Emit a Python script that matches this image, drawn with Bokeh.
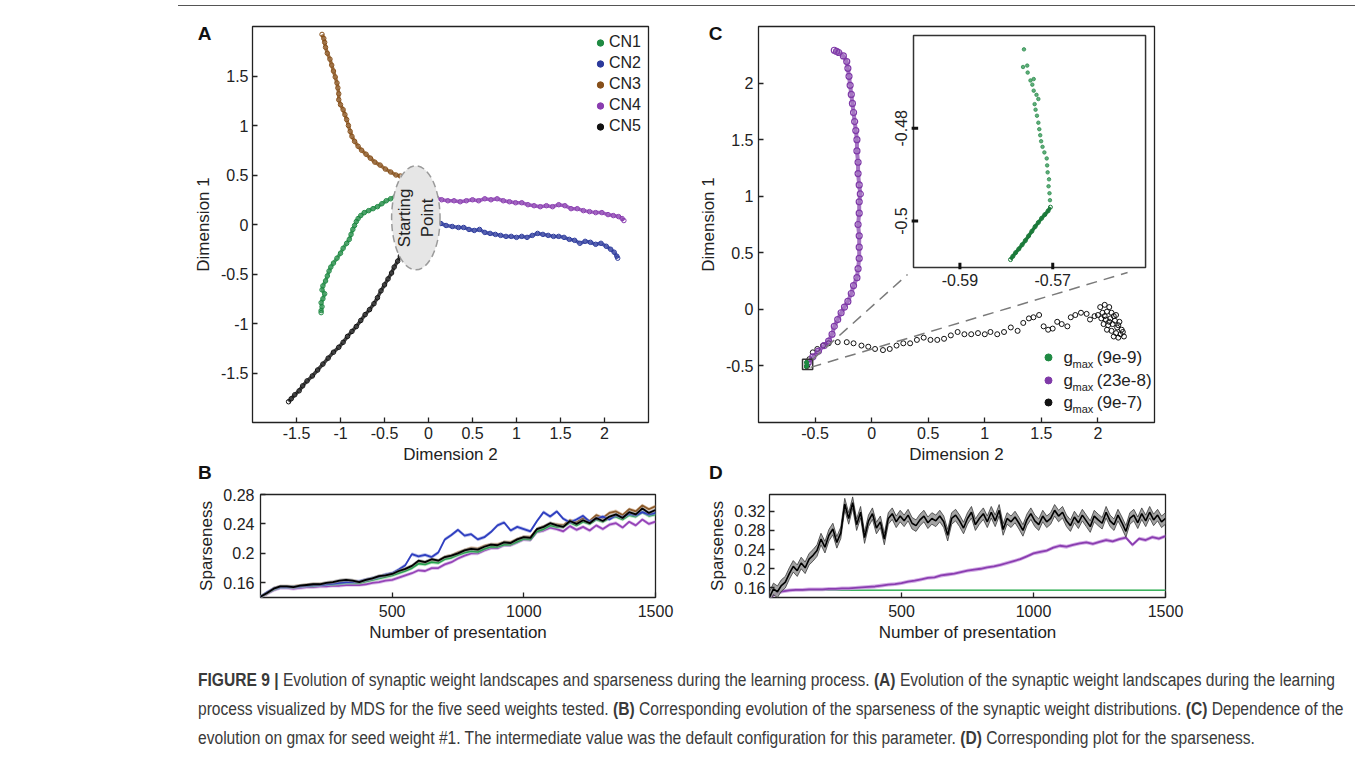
import math
from bokeh.plotting import figure
from bokeh.models import (Range1d, Label, Div, Spacer, FixedTicker, Legend, LegendItem,
                          NumeralTickFormatter, LinearAxis, CustomJSTickFormatter)
from bokeh.layouts import column, row
from bokeh.embed import file_html
from bokeh.resources import INLINE
from bokeh.core.properties import value

FONT = "Liberation Sans"
INK = "#222222"
NAN = float("nan")

# ---------------- Panel A: MDS trajectories (Dimension 2, Dimension 1) ----------------
CN1 = [(-0.29, 0.32), (-0.33, 0.30), (-0.38, 0.28), (-0.43, 0.26), (-0.48, 0.24), (-0.53, 0.21),
       (-0.58, 0.18), (-0.63, 0.16), (-0.68, 0.14), (-0.73, 0.12), (-0.77, 0.09), (-0.80, 0.06),
       (-0.82, 0.03), (-0.84, -0.01), (-0.86, -0.05), (-0.88, -0.10), (-0.90, -0.15), (-0.93, -0.19),
       (-0.97, -0.24), (-1.00, -0.29), (-1.04, -0.34), (-1.08, -0.39), (-1.11, -0.43), (-1.13, -0.47),
       (-1.15, -0.52), (-1.17, -0.57), (-1.20, -0.62), (-1.21, -0.66), (-1.18, -0.70), (-1.20, -0.75),
       (-1.22, -0.79), (-1.21, -0.83), (-1.22, -0.87), (-1.22, -0.89)]
CN2 = [(0.06, 0.08), (0.09, 0.04), (0.14, 0.01), (0.20, -0.01), (0.27, -0.02), (0.34, -0.03),
       (0.40, -0.03), (0.46, -0.05), (0.52, -0.06), (0.58, -0.05), (0.64, -0.08), (0.70, -0.09),
       (0.76, -0.10), (0.82, -0.11), (0.88, -0.12), (0.94, -0.12), (1.00, -0.13), (1.06, -0.12),
       (1.12, -0.13), (1.18, -0.11), (1.24, -0.09), (1.30, -0.10), (1.36, -0.11), (1.42, -0.12),
       (1.48, -0.12), (1.54, -0.13), (1.60, -0.15), (1.66, -0.16), (1.72, -0.19), (1.78, -0.17),
       (1.84, -0.18), (1.90, -0.20), (1.96, -0.19), (2.02, -0.22), (2.07, -0.25), (2.11, -0.28),
       (2.14, -0.32), (2.15, -0.34)]
CN3 = [(-0.32, 0.49), (-0.37, 0.50), (-0.43, 0.53), (-0.49, 0.56), (-0.55, 0.60), (-0.61, 0.63),
       (-0.66, 0.67), (-0.71, 0.71), (-0.76, 0.75), (-0.80, 0.79), (-0.84, 0.84), (-0.87, 0.89),
       (-0.89, 0.94), (-0.91, 1.00), (-0.93, 1.06), (-0.95, 1.11), (-0.97, 1.16), (-1.00, 1.21),
       (-1.02, 1.26), (-1.02, 1.32), (-1.03, 1.38), (-1.04, 1.43), (-1.06, 1.49), (-1.08, 1.55),
       (-1.10, 1.61), (-1.12, 1.67), (-1.15, 1.73), (-1.17, 1.79), (-1.18, 1.84), (-1.19, 1.88),
       (-1.21, 1.92)]
CN4 = [(0.05, 0.35), (0.06, 0.30), (0.09, 0.27), (0.15, 0.25), (0.22, 0.24), (0.29, 0.24),
       (0.36, 0.23), (0.43, 0.24), (0.50, 0.25), (0.57, 0.24), (0.64, 0.26), (0.71, 0.25),
       (0.78, 0.26), (0.85, 0.24), (0.92, 0.23), (0.99, 0.22), (1.06, 0.22), (1.13, 0.20),
       (1.20, 0.19), (1.27, 0.18), (1.34, 0.19), (1.41, 0.18), (1.48, 0.20), (1.55, 0.19),
       (1.62, 0.16), (1.69, 0.16), (1.76, 0.14), (1.83, 0.13), (1.90, 0.12), (1.97, 0.12),
       (2.04, 0.10), (2.10, 0.09), (2.16, 0.08), (2.20, 0.06), (2.22, 0.04)]
CN5 = [(-0.32, -0.32), (-0.35, -0.37), (-0.39, -0.43), (-0.42, -0.49), (-0.46, -0.55), (-0.50, -0.61),
       (-0.54, -0.67), (-0.58, -0.74), (-0.62, -0.80), (-0.67, -0.86), (-0.72, -0.91), (-0.77, -0.97),
       (-0.82, -1.03), (-0.87, -1.08), (-0.92, -1.13), (-0.97, -1.19), (-1.02, -1.24), (-1.08, -1.29),
       (-1.14, -1.35), (-1.20, -1.41), (-1.26, -1.47), (-1.32, -1.53), (-1.38, -1.58), (-1.43, -1.63),
       (-1.47, -1.68), (-1.52, -1.72), (-1.56, -1.76), (-1.59, -1.79)]
CN_NAMES = ["CN1", "CN2", "CN3", "CN4", "CN5"]
CN_COLORS = ["#1f8a43", "#2c3a9c", "#87501a", "#8a3db0", "#111111"]
START_CENTER = (-0.144, 0.067)
START_SIZE = (0.55, 1.05)

# ---------------- Panel C: gmax dependence ----------------
GMAX_LABELS = ["(9e-9)", "(23e-8)", "(9e-7)"]
GMAX_COLORS = ["#1f8a43", "#7f3aa8", "#111111"]
C_PURPLE = [(-0.56, -0.47), (-0.52, -0.42), (-0.47, -0.37), (-0.42, -0.32), (-0.38, -0.28),
            (-0.35, -0.22), (-0.33, -0.15), (-0.30, -0.09), (-0.27, -0.03), (-0.24, 0.02),
            (-0.21, 0.07), (-0.18, 0.14), (-0.16, 0.21), (-0.13, 0.28), (-0.12, 0.36),
            (-0.11, 0.45), (-0.11, 0.55), (-0.11, 0.65), (-0.12, 0.75), (-0.11, 0.85),
            (-0.11, 0.95), (-0.10, 1.02), (-0.11, 1.10), (-0.12, 1.20), (-0.12, 1.30),
            (-0.13, 1.40), (-0.13, 1.50), (-0.14, 1.58), (-0.15, 1.66), (-0.16, 1.74),
            (-0.17, 1.82), (-0.18, 1.90), (-0.19, 1.98), (-0.20, 2.06), (-0.21, 2.13),
            (-0.22, 2.19), (-0.25, 2.24), (-0.29, 2.27), (-0.33, 2.29), (-0.31, 2.28)]
C_BLACK = [(-0.57, -0.50), (-0.55, -0.44), (-0.52, -0.38), (-0.48, -0.35), (-0.43, -0.32),
           (-0.38, -0.30), (-0.30, -0.29), (-0.22, -0.29), (-0.16, -0.30), (-0.09, -0.32),
           (-0.03, -0.33), (0.03, -0.35), (0.10, -0.36), (0.16, -0.35), (0.22, -0.32),
           (0.28, -0.30), (0.34, -0.30), (0.40, -0.27), (0.46, -0.25), (0.52, -0.27),
           (0.58, -0.27), (0.64, -0.26), (0.70, -0.23), (0.76, -0.20), (0.82, -0.22),
           (0.88, -0.22), (0.94, -0.21), (1.00, -0.22), (1.05, -0.20), (1.11, -0.22),
           (1.17, -0.20), (1.23, -0.16), (1.29, -0.19), (1.34, -0.12), (1.39, -0.08),
           (1.43, -0.07), (1.48, -0.05), (1.52, -0.15), (1.56, -0.18), (1.60, -0.17),
           (1.64, -0.11), (1.68, -0.13), (1.73, -0.15), (1.76, -0.07), (1.80, -0.05),
           (1.85, -0.03), (1.90, -0.04), (1.93, -0.09), (1.97, -0.06),
           (2.02, 0.02), (2.06, 0.04), (2.10, 0.02), (2.04, -0.03), (2.08, -0.02), (2.12, -0.03),
           (2.16, -0.05), (2.03, -0.08), (2.07, -0.09), (2.11, -0.08), (2.15, -0.10), (2.19, -0.11),
           (2.05, -0.13), (2.09, -0.14), (2.13, -0.13), (2.17, -0.16), (2.21, -0.18), (2.08, -0.18),
           (2.12, -0.19), (2.16, -0.21), (2.20, -0.22), (2.23, -0.24), (2.14, -0.24), (2.18, -0.25),
           (2.10, -0.11), (2.14, -0.06), (2.18, -0.14), (2.06, -0.06), (2.22, -0.20), (2.00, -0.05)]
# green (9e-9) trajectory, shown enlarged in the inset
C_GREEN_DENSE = [(-0.5791, -0.5083), (-0.5786, -0.5076), (-0.5780, -0.5068), (-0.5773, -0.5060),
                 (-0.5766, -0.5051), (-0.5759, -0.5042), (-0.5752, -0.5032), (-0.5745, -0.5022),
                 (-0.5738, -0.5012), (-0.5731, -0.5003), (-0.5724, -0.4994), (-0.5717, -0.4986),
                 (-0.5710, -0.4978), (-0.5705, -0.4970)]
C_GREEN_SPARSE = [(-0.5706, -0.4955), (-0.5707, -0.4940), (-0.5709, -0.4925), (-0.5708, -0.4910),
                  (-0.5711, -0.4895), (-0.5712, -0.4880), (-0.5713, -0.4865), (-0.5718, -0.4852),
                  (-0.5722, -0.4840), (-0.5725, -0.4828), (-0.5727, -0.4815), (-0.5729, -0.4802),
                  (-0.5731, -0.4788), (-0.5734, -0.4773), (-0.5737, -0.4760), (-0.5739, -0.4748),
                  (-0.5731, -0.4737), (-0.5735, -0.4728), (-0.5741, -0.4719), (-0.5744, -0.4706),
                  (-0.5748, -0.4697), (-0.5741, -0.4694), (-0.5754, -0.4680), (-0.5755, -0.4665),
                  (-0.5764, -0.4668), (-0.5762, -0.4630)]
INSET_XRANGE = (-0.60, -0.55)
INSET_YRANGE = (-0.51, -0.46)
INSET_XTICKS = [-0.59, -0.57]
INSET_YTICKS = [-0.50, -0.48]

# ---------------- Panel B: sparseness, five seed weights ----------------
X_B = list(range(0, 1501, 25))
B_CN1 = [0.141, 0.146, 0.151, 0.154, 0.154, 0.154, 0.155, 0.156, 0.156, 0.157,
         0.158, 0.158, 0.159, 0.160, 0.160, 0.160, 0.162, 0.164, 0.166, 0.168,
         0.170, 0.173, 0.176, 0.180, 0.186, 0.185, 0.188, 0.187, 0.192, 0.194,
         0.198, 0.201, 0.203, 0.202, 0.206, 0.209, 0.209, 0.212, 0.212, 0.216,
         0.220, 0.219, 0.230, 0.233, 0.238, 0.236, 0.236, 0.242, 0.238, 0.243,
         0.240, 0.246, 0.243, 0.248, 0.250, 0.246, 0.252, 0.250, 0.256, 0.251,
         0.253]
B_CN2 = [0.141, 0.147, 0.152, 0.154, 0.154, 0.154, 0.155, 0.156, 0.157, 0.157,
         0.158, 0.159, 0.160, 0.161, 0.161, 0.162, 0.164, 0.166, 0.168, 0.171,
         0.173, 0.178, 0.184, 0.199, 0.196, 0.198, 0.195, 0.201, 0.219, 0.225,
         0.232, 0.224, 0.226, 0.219, 0.222, 0.229, 0.238, 0.242, 0.231, 0.236,
         0.233, 0.230, 0.244, 0.256, 0.250, 0.257, 0.247, 0.242, 0.246, 0.251,
         0.243, 0.247, 0.250, 0.246, 0.252, 0.249, 0.254, 0.252, 0.256, 0.253,
         0.255]
B_CN3 = [0.141, 0.146, 0.152, 0.155, 0.155, 0.155, 0.156, 0.157, 0.158, 0.158,
         0.159, 0.160, 0.161, 0.162, 0.162, 0.161, 0.163, 0.165, 0.168, 0.170,
         0.172, 0.175, 0.178, 0.182, 0.188, 0.187, 0.191, 0.190, 0.195, 0.197,
         0.201, 0.204, 0.207, 0.206, 0.210, 0.212, 0.212, 0.215, 0.215, 0.219,
         0.222, 0.222, 0.233, 0.236, 0.240, 0.239, 0.238, 0.245, 0.242, 0.248,
         0.244, 0.252, 0.248, 0.255, 0.257, 0.252, 0.260, 0.257, 0.265, 0.260,
         0.264]
B_CN4 = [0.141, 0.145, 0.150, 0.153, 0.153, 0.152, 0.153, 0.154, 0.154, 0.155,
         0.155, 0.156, 0.156, 0.157, 0.157, 0.157, 0.158, 0.160, 0.161, 0.163,
         0.164, 0.167, 0.170, 0.173, 0.177, 0.176, 0.180, 0.180, 0.185, 0.188,
         0.193, 0.197, 0.200, 0.200, 0.204, 0.207, 0.207, 0.211, 0.211, 0.215,
         0.219, 0.218, 0.229, 0.231, 0.235, 0.233, 0.230, 0.237, 0.232, 0.236,
         0.231, 0.238, 0.233, 0.239, 0.241, 0.235, 0.243, 0.238, 0.246, 0.240,
         0.243]
B_CN5 = [0.141, 0.146, 0.152, 0.155, 0.155, 0.154, 0.156, 0.157, 0.158, 0.158,
         0.160, 0.161, 0.163, 0.164, 0.163, 0.161, 0.164, 0.166, 0.169, 0.170,
         0.172, 0.176, 0.179, 0.183, 0.190, 0.188, 0.192, 0.190, 0.195, 0.197,
         0.200, 0.204, 0.206, 0.205, 0.209, 0.212, 0.211, 0.215, 0.214, 0.219,
         0.222, 0.221, 0.233, 0.236, 0.241, 0.238, 0.236, 0.244, 0.240, 0.245,
         0.241, 0.248, 0.244, 0.250, 0.253, 0.248, 0.256, 0.253, 0.261, 0.255,
         0.259]
B_SERIES = [B_CN1, B_CN2, B_CN3, B_CN4, B_CN5]
B_HALF_BAND = 0.0025

# ---------------- Panel D: sparseness vs gmax ----------------
X_D_BLACK = list(range(0, 1501, 15))
D_BLACK = [0.140, 0.158, 0.152, 0.165, 0.172, 0.190, 0.205, 0.196, 0.212, 0.202,
           0.220, 0.228, 0.238, 0.262, 0.245, 0.270, 0.283, 0.255, 0.275, 0.335,
           0.305, 0.338, 0.292, 0.318, 0.265, 0.300, 0.315, 0.285, 0.298, 0.262,
           0.305, 0.315, 0.298, 0.310, 0.300, 0.312, 0.295, 0.290, 0.302, 0.310,
           0.296, 0.305, 0.300, 0.310, 0.298, 0.270, 0.305, 0.312, 0.300, 0.285,
           0.305, 0.318, 0.292, 0.305, 0.315, 0.298, 0.318, 0.300, 0.322, 0.282,
           0.305, 0.298, 0.308, 0.295, 0.280, 0.302, 0.315, 0.300, 0.292, 0.310,
           0.298, 0.305, 0.322, 0.310, 0.318, 0.300, 0.290, 0.308, 0.296, 0.312,
           0.300, 0.288, 0.310, 0.302, 0.295, 0.318, 0.300, 0.292, 0.312, 0.296,
           0.278, 0.305, 0.312, 0.296, 0.315, 0.300, 0.318, 0.302, 0.312, 0.298,
           0.305]
X_D = list(range(0, 1501, 25))
D_PURPLE = [0.140, 0.148, 0.153, 0.155, 0.156, 0.156, 0.157, 0.157, 0.157, 0.158,
            0.158, 0.159, 0.159, 0.160, 0.161, 0.162, 0.163, 0.165, 0.167, 0.168,
            0.170, 0.173, 0.175, 0.178, 0.181, 0.182, 0.186, 0.188, 0.190, 0.193,
            0.196, 0.198, 0.200, 0.203, 0.205, 0.208, 0.212, 0.216, 0.220, 0.226,
            0.232, 0.235, 0.238, 0.244, 0.248, 0.246, 0.250, 0.253, 0.255, 0.252,
            0.256, 0.260, 0.257, 0.262, 0.265, 0.250, 0.263, 0.260, 0.266, 0.263,
            0.268]
D_GREEN = [0.140, 0.150, 0.154, 0.155, 0.155, 0.155, 0.155, 0.155, 0.155, 0.155,
           0.155, 0.155, 0.155, 0.155, 0.155, 0.155, 0.155, 0.155, 0.155, 0.155,
           0.155, 0.155, 0.155, 0.155, 0.155, 0.155, 0.155, 0.155, 0.155, 0.155,
           0.155, 0.155, 0.155, 0.155, 0.155, 0.155, 0.155, 0.155, 0.155, 0.155,
           0.155, 0.155, 0.155, 0.155, 0.155, 0.155, 0.155, 0.155, 0.155, 0.155,
           0.155, 0.155, 0.155, 0.155, 0.155, 0.155, 0.155, 0.155, 0.155, 0.155,
           0.155]
D_HALF_BAND = {"black": 0.012, "purple": 0.004, "green": 0.0015}

CAPTION_LINES = [
    "<b>FIGURE 9 |</b> Evolution of synaptic weight landscapes and sparseness during the learning process. "
    "<b>(A)</b> Evolution of the synaptic weight landscapes during the learning",
    "process visualized by MDS for the five seed weights tested. <b>(B)</b> Corresponding evolution of the "
    "sparseness of the synaptic weight distributions. <b>(C)</b> Dependence of the",
    "evolution on gmax for seed weight #1. The intermediate value was the default configuration for this "
    "parameter. <b>(D)</b> Corresponding plot for the sparseness.",
]


def xs(pts):
    return [p[0] for p in pts]


def ys(pts):
    return [p[1] for p in pts]


def make_fig(w, h, xr, yr, bl, br, bt, bb):
    p = figure(width=w, height=h, x_range=Range1d(*xr), y_range=Range1d(*yr),
               output_backend="svg", toolbar_location=None,
               min_border_left=bl, min_border_right=br, min_border_top=bt, min_border_bottom=bb)
    p.grid.grid_line_color = None
    p.outline_line_color = "#222222"
    p.outline_line_width = 1.3
    p.outline_line_alpha = 1
    p.background_fill_color = "white"
    p.border_fill_color = "white"
    for ax in p.axis:
        ax.axis_line_color = None
        ax.major_tick_in = 5
        ax.major_tick_out = 0
        ax.major_tick_line_color = INK
        ax.major_tick_line_width = 1.3
        ax.minor_tick_line_color = None
        ax.major_label_text_font = FONT
        ax.major_label_text_font_size = "16px"
        ax.major_label_text_color = INK
        ax.axis_label_text_font = FONT
        ax.axis_label_text_font_size = "17px"
        ax.axis_label_text_font_style = "normal"
        ax.axis_label_text_color = INK
        ax.formatter = NumeralTickFormatter(format="0.[00]")
    return p


def letter_axis(p, ypos, text, standoff):
    """Bold panel letter, drawn as the single label of an extra (invisible) left axis."""
    ax = LinearAxis(ticker=FixedTicker(ticks=[ypos]),
                    formatter=CustomJSTickFormatter(code="return '%s'" % text),
                    major_tick_in=0, major_tick_out=0, minor_tick_in=0, minor_tick_out=0,
                    major_tick_line_color=None, minor_tick_line_color=None, axis_line_color=None,
                    major_label_standoff=standoff, major_label_text_font=FONT,
                    major_label_text_font_size="19px", major_label_text_font_style="bold",
                    major_label_text_color="#111111")
    p.add_layout(ax, "left")


def letter_div(t):
    return Div(text=t, width=40, height=14, margin=0,
               styles={"font-family": "'Liberation Sans', Arial, sans-serif", "font-size": "19px",
                       "font-weight": "bold", "line-height": "14px", "color": "#111111"})


# ================= Panel A =================
pA = make_fig(690, 460, (-2.0, 2.5), (-2.0, 2.0), 252, 42, 20, 44)
pA.xaxis.ticker = FixedTicker(ticks=[-1.5, -1, -0.5, 0, 0.5, 1, 1.5, 2])
pA.yaxis.ticker = FixedTicker(ticks=[-1.5, -1, -0.5, 0, 0.5, 1, 1.5])
pA.xaxis.axis_label = "Dimension 2"
pA.yaxis.axis_label = "Dimension 1"
pA.xaxis.major_label_standoff = 4
pA.xaxis.axis_label_standoff = 3
pA.yaxis.major_label_standoff = 4
pA.yaxis.axis_label_standoff = 5

legend_items = []
for pts, name, col in zip([CN1, CN2, CN3, CN4, CN5], CN_NAMES, CN_COLORS):
    pA.line(xs(pts), ys(pts), line_color=col, line_width=3.5, line_alpha=0.8)
    pA.scatter(xs(pts), ys(pts), marker="circle", size=4.5, fill_color=None,
               line_color=col, line_width=1)
    dummy = pA.scatter([NAN], [NAN], marker="circle", size=7, fill_color=col, line_color=col)
    legend_items.append(LegendItem(label=name, renderers=[dummy]))

pA.ellipse(x=[START_CENTER[0]], y=[START_CENTER[1]], width=START_SIZE[0], height=START_SIZE[1],
           fill_color="#e6e6e6", fill_alpha=1, line_color="#9a9a9a", line_dash="7 4", line_width=1.5)
pA.add_layout(Label(x=START_CENTER[0], y=START_CENTER[1], text="Starting\nPoint", angle=math.pi / 2,
                    text_font=FONT, text_font_size="17px", text_color=INK,
                    text_align="center", text_baseline="middle"))

legA = Legend(items=legend_items, location="top_right", border_line_color=None,
              background_fill_alpha=0, label_text_font=FONT, label_text_font_size="16px",
              label_text_color=INK, glyph_width=16, glyph_height=17, label_height=17,
              spacing=3, padding=0, margin=7, label_standoff=1)
pA.add_layout(legA)
letter_axis(pA, 1.929, "A", -21)

# ================= Panel C =================
pC = make_fig(665, 460, (-1.0, 2.5), (-1.0, 2.5), 68, 201, 20, 44)
pC.xaxis.ticker = FixedTicker(ticks=[-0.5, 0, 0.5, 1, 1.5, 2])
pC.yaxis.ticker = FixedTicker(ticks=[-0.5, 0, 0.5, 1, 1.5, 2])
pC.xaxis.axis_label = "Dimension 2"
pC.yaxis.axis_label = "Dimension 1"
pC.xaxis.major_label_standoff = 4
pC.xaxis.axis_label_standoff = 3
pC.yaxis.major_label_standoff = 5
pC.yaxis.axis_label_standoff = 5

pC.scatter(xs(C_BLACK), ys(C_BLACK), marker="circle", size=5, fill_color=None,
           line_color=GMAX_COLORS[2], line_width=1)
pC.line(xs(C_PURPLE), ys(C_PURPLE), line_color=GMAX_COLORS[1], line_width=4, line_alpha=0.7)
pC.scatter(xs(C_PURPLE), ys(C_PURPLE), marker="circle", size=6, fill_color=None,
           line_color=GMAX_COLORS[1], line_width=1.2)
pC.scatter(xs(C_GREEN_DENSE + C_GREEN_SPARSE), ys(C_GREEN_DENSE + C_GREEN_SPARSE), marker="circle",
           size=3, fill_color=GMAX_COLORS[0], line_color=GMAX_COLORS[0])
# zoom box and connectors
pC.rect(x=[-0.566], y=[-0.487], width=0.09, height=0.09, fill_color=None,
        line_color="#333333", line_width=1.5)
pC.segment(x0=[-0.522, -0.540], y0=[-0.443, -0.513], x1=[0.317, 2.262], y1=[0.308, 0.326],
           line_color="#7a7a7a", line_width=1.5, line_dash="11 7")

# inset drawn through a sub-coordinate mapping
sub = pC.subplot(x_source=Range1d(*INSET_XRANGE), y_source=Range1d(*INSET_YRANGE),
                 x_target=Range1d(0.370, 2.421), y_target=Range1d(0.370, 2.421))
sub.quad(left=[INSET_XRANGE[0]], right=[INSET_XRANGE[1]], bottom=[INSET_YRANGE[0]], top=[INSET_YRANGE[1]],
         fill_color="white", line_color="#333333", line_width=1.5)
sub.line(xs(C_GREEN_DENSE), ys(C_GREEN_DENSE), line_color="#1b7a3a", line_width=3.5)
sub.scatter(xs(C_GREEN_DENSE), ys(C_GREEN_DENSE), marker="circle", size=4,
            fill_color=None, line_color="#1b7a3a", line_width=1)
sub.scatter(xs(C_GREEN_SPARSE), ys(C_GREEN_SPARSE), marker="circle", size=3.5,
            fill_color="#5fb07a", line_color="#2e8b4f", line_width=0.8)
sub.segment(x0=INSET_XTICKS, y0=[-0.5104] * 2, x1=INSET_XTICKS, y1=[-0.5090] * 2,
            line_color="#111111", line_width=3)
sub.segment(x0=[-0.6004] * 2, y0=INSET_YTICKS, x1=[-0.5990] * 2, y1=INSET_YTICKS,
            line_color="#111111", line_width=3)
sub.text(x=INSET_XTICKS, y=[-0.5126] * 2, text=["-0.59", "-0.57"], text_font=value(FONT),
         text_font_size=value("16px"), text_color=INK, text_align="center", text_baseline="middle")
sub.text(x=[-0.6026] * 2, y=INSET_YTICKS, text=["-0.5", "-0.48"], text_font=value(FONT),
         text_font_size=value("16px"), text_color=INK, text_align="center", text_baseline="middle",
         angle=math.pi / 2)

# legend for gmax
LEG_ROWS_Y = [-0.425, -0.628, -0.823]
pC.scatter([1.563] * 3, LEG_ROWS_Y, marker="circle", size=7, fill_color=GMAX_COLORS,
           line_color=GMAX_COLORS)
for yy, lab in zip(LEG_ROWS_Y, GMAX_LABELS):
    pC.add_layout(Label(x=1.696, y=yy, text="g", text_font=FONT, text_font_size="17px",
                        text_color=INK, text_baseline="middle"))
    pC.add_layout(Label(x=1.776, y=yy - 0.055, text="max", text_font=FONT, text_font_size="11px",
                        text_color=INK, text_baseline="middle"))
    pC.add_layout(Label(x=1.990, y=yy, text=lab, text_font=FONT, text_font_size="17px",
                        text_color=INK, text_baseline="middle"))
letter_axis(pC, 2.438, "C", -27)

# ================= Panel B =================
pB = make_fig(690, 170, (0, 1500), (0.14, 0.28), 260, 35, 14, 53)
pB.xaxis.ticker = FixedTicker(ticks=[500, 1000, 1500])
pB.yaxis.ticker = FixedTicker(ticks=[0.16, 0.2, 0.24, 0.28])
pB.xaxis.axis_label = "Number of presentation"
pB.yaxis.axis_label = "Sparseness"
pB.xaxis.major_label_standoff = 7
pB.xaxis.axis_label_standoff = 3
pB.yaxis.major_label_standoff = 6
pB.yaxis.axis_label_standoff = 4
B_BAND_COLORS = ["#8fd0a0", "#8f9ae0", "#c9a27a", "#c79ade", "#8a8a8a"]
B_LINE_COLORS = ["#27a24f", "#2f3fc0", "#8b5a2b", "#9644b8", "#000000"]
for idx in [2, 3, 0, 1, 4]:
    vals = B_SERIES[idx]
    pB.varea(x=X_B, y1=[v - B_HALF_BAND for v in vals], y2=[v + B_HALF_BAND for v in vals],
             fill_color=B_BAND_COLORS[idx], fill_alpha=0.6)
    pB.line(X_B, vals, line_color=B_LINE_COLORS[idx], line_width=1.8)

# ================= Panel D =================
pD = make_fig(665, 170, (0, 1500), (0.14, 0.355), 79, 190, 14, 53)
pD.xaxis.ticker = FixedTicker(ticks=[500, 1000, 1500])
pD.yaxis.ticker = FixedTicker(ticks=[0.16, 0.2, 0.24, 0.28, 0.32])
pD.xaxis.axis_label = "Number of presentation"
pD.yaxis.axis_label = "Sparseness"
pD.xaxis.major_label_standoff = 7
pD.xaxis.axis_label_standoff = 3
pD.yaxis.major_label_standoff = 4
pD.yaxis.axis_label_standoff = 4

hb = D_HALF_BAND["green"]
pD.varea(x=X_D, y1=[v - hb for v in D_GREEN], y2=[v + hb for v in D_GREEN],
         fill_color="#9ad8a8", fill_alpha=0.7)
pD.line(X_D, D_GREEN, line_color="#3cb35f", line_width=1.5)
hb = D_HALF_BAND["purple"]
pD.varea(x=X_D, y1=[v - hb for v in D_PURPLE], y2=[v + hb for v in D_PURPLE],
         fill_color="#c99ae0", fill_alpha=0.8)
pD.line(X_D, D_PURPLE, line_color="#8a3db0", line_width=1.8)
hb = D_HALF_BAND["black"]
lo = [v - hb for v in D_BLACK]
hi = [v + hb for v in D_BLACK]
pD.varea(x=X_D_BLACK, y1=lo, y2=hi, fill_color="#9a9a9a", fill_alpha=0.9)
pD.line(X_D_BLACK, lo, line_color="#3a3a3a", line_width=0.8)
pD.line(X_D_BLACK, hi, line_color="#3a3a3a", line_width=0.8)
pD.line(X_D_BLACK, D_BLACK, line_color="#000000", line_width=1.6)

# ================= Caption, frame line, lower panel letters =================
top_rule = Div(text="", width=1177, height=6, margin=0,
               styles={"border-bottom": "1px solid #555555", "box-sizing": "border-box"})
caption_html = (
    "<div style=\"font-family: 'Liberation Sans', Arial, sans-serif; font-size: 18px; "
    "line-height: 29px; color: #3a3a3a; white-space: nowrap; margin-top: 16px; "
    "transform: scaleX(0.866); transform-origin: left top;\">"
    + "<br>".join(CAPTION_LINES) + "</div>"
)
caption = Div(text=caption_html, width=1155, height=108, margin=0)

layout = column(
    row(Spacer(width=178, height=6), top_rule),
    row(pA, pC),
    row(Spacer(width=198, height=14), letter_div("B"), Spacer(width=471, height=14), letter_div("D")),
    row(pB, pD),
    row(Spacer(width=198, height=108), caption),
)

open("out.html", "w").write(file_html(layout, INLINE))
